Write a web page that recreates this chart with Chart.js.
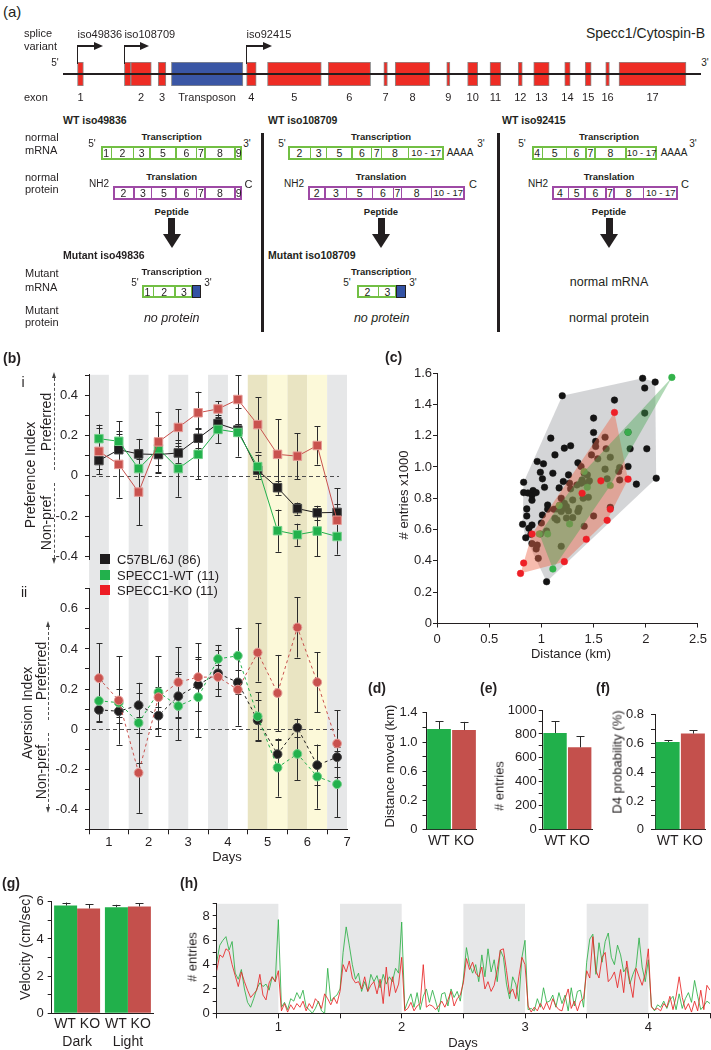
<!DOCTYPE html>
<html>
<head>
<meta charset="utf-8">
<title>Specc1 / Cytospin-B figure</title>
<script src="https://cdn.jsdelivr.net/npm/chart.js@4.4.1/dist/chart.umd.min.js"></script>
<style>
html,body{margin:0;padding:0;background:#fff;}
#fig{position:relative;width:711px;height:1050px;overflow:hidden;background:#fff;font-family:"Liberation Sans",Arial,Helvetica,sans-serif;color:#231f20;}
#fig canvas{position:absolute;}
.t{position:absolute;white-space:nowrap;line-height:1;z-index:5;}
.s{position:absolute;box-sizing:border-box;z-index:4;}
</style>
</head>
<body>
<div id="fig"></div>
<script>
// ======================= DATA =======================
// (a) gene model (relative locus units)
const exonLabels = ['1','','2','3','Transposon','4','5','6','7','8','9','10','11','12','13','14','15','16','17'];
const exonStart  = [14.5,61.4,67.8,95.2,108.4,183.6,204.5,265.2,320.8,332.2,383.7,404.6,427.0,455.2,470.7,501.7,522.2,542.7,556.0];
const exonEnd    = [20.4,67.8,88.3,102.9,179.9,193.2,258.3,307.6,324.4,366.8,386.9,414.7,437.9,459.3,486.2,507.2,528.2,546.4,623.0];
const locusLength = 638;
const spliceVariants = ['iso49836','iso108709','iso92415'];
const spliceStartExon = [0,1,5];
// transcripts / proteins
const wt49836mRNA = ['1','2','3','5','6','7','8','9'];
const wt49836Prot = ['2','3','5','6','7','8','9'];
const wt108709mRNA = ['2','3','5','6','7','8','10 - 17'];
const wt108709Prot = ['2','3','5','6','7','8','10 - 17'];
const wt92415mRNA = ['4','5','6','7','8','10 - 17'];
const wt92415Prot = ['4','5','6','7','8','10 - 17'];
const mut49836mRNA = ['1','2','3'];
const mut108709mRNA = ['2','3'];

// (b) half-day bins, days
const binCenters = [0.5,1.5,2.5,3.5,4.5,5.5,6.5,7.5,8.5,9.5,10.5,11.5,12.5];
const dayLabels = ['1','2','3','4','5','6','7'];
const phaseBands = [[0,1,'dark'],[2,3,'dark'],[4,5,'dark'],[6,7,'dark'],[8,9,'shiftD'],[9,10,'shiftL'],[10,11,'shiftD'],[11,12,'shiftL'],[12,13,'dark']];
// (b-i) preference index
const prefC57    = [0.076,0.130,0.109,0.106,0.114,0.187,0.260,0.228,0.028,-0.059,-0.163,-0.184,-0.182];
const prefC57Err = [0.040,0.080,0.075,0.050,0.050,0.050,0.030,0.030,0.020,0.035,0.030,0.035,0.120];
const prefWT     = [0.185,0.172,0.036,0.135,0.036,0.107,0.231,0.216,0.046,-0.273,-0.293,-0.275,-0.302];
const prefWTErr  = [0.070,0.100,0.100,0.120,0.140,0.125,0.070,0.120,0.060,0.105,0.055,0.125,0.090];
const prefKO     = [0.122,0.057,-0.081,0.169,0.241,0.314,0.333,0.380,0.255,0.107,0.098,0.151,-0.221];
const prefKOErr  = [0.115,0.165,0.165,0.150,0.090,0.105,0.040,0.120,0.135,0.175,0.115,0.095,0.080];
// (b-ii) aversion index
const avC57    = [0.096,0.089,0.119,0.067,0.164,0.221,0.278,0.233,0.044,-0.125,0.007,-0.180,-0.140];
const avC57Err = [0.060,0.060,0.060,0.100,0.110,0.130,0.115,0.060,0.100,0.070,0.045,0.100,0.050];
const avWT     = [0.141,0.132,0.031,0.184,0.115,0.159,0.350,0.366,0.063,-0.192,-0.124,-0.237,-0.275];
const avWTErr  = [0.100,0.070,0.200,0.180,0.170,0.200,0.070,0.140,0.120,0.145,0.130,0.160,0.165];
const avKO     = [0.254,0.143,-0.218,0.159,0.234,0.259,0.260,0.197,0.382,0.180,0.507,0.234,-0.072];
const avKOErr  = [0.175,0.220,0.200,0.050,0.175,0.170,0.060,0.180,0.145,0.190,0.150,0.150,0.165];
const legendNames = ['C57BL/6J (86)','SPECC1-WT (11)','SPECC1-KO (11)'];

// (c) distance (km) vs entries (x1000)
const c57Points = [[1.20,1.455],[1.70,1.427],[1.97,1.566],[1.99,1.504],[2.09,1.542],[1.99,1.344],[2.01,1.116],[2.10,0.928],[1.91,0.890],[1.83,1.222],[1.85,1.116],[1.83,1.003],[1.75,0.996],[1.74,0.971],[1.75,0.917],[1.50,1.312],[1.50,1.220],[1.52,1.163],[1.52,1.131],[1.61,1.190],[1.62,1.116],[1.54,1.052],[1.48,1.077],[1.61,0.986],[1.66,1.062],[1.63,0.924],[1.35,1.026],[1.38,1.003],[1.41,0.960],[1.46,0.911],[1.44,0.949],[1.39,0.917],[1.28,1.135],[1.22,1.120],[1.09,1.184],[1.13,1.077],[0.96,1.035],[1.02,1.020],[0.99,0.966],[1.03,0.870],[1.11,0.960],[1.17,0.866],[1.21,0.907],[1.26,0.949],[1.27,0.896],[1.19,0.800],[1.18,0.757],[1.15,0.732],[1.22,0.768],[1.24,0.747],[1.22,0.736],[1.19,0.715],[1.26,0.719],[1.30,0.789],[1.28,0.860],[1.34,0.885],[1.38,0.896],[1.44,0.896],[1.40,0.800],[1.45,0.806],[1.36,0.736],[1.35,0.715],[1.30,0.676],[1.24,0.674],[1.15,0.661],[1.13,0.672],[1.12,0.730],[1.06,0.757],[1.06,0.730],[1.01,0.693],[1.00,0.642],[1.05,0.591],[0.99,0.572],[0.96,0.501],[0.95,0.476],[0.97,0.416],[0.91,0.510],[0.90,0.570],[0.91,0.629],[0.85,0.548],[0.88,0.608],[0.86,0.687],[0.83,0.902],[0.83,0.836],[0.87,0.834],[0.92,0.849],[0.91,0.819],[0.91,0.787],[0.95,0.836],[0.82,0.634],[0.86,0.732],[1.01,0.924],[1.19,0.493],[1.41,0.621],[1.50,0.687],[1.66,0.742],[1.05,0.267]];
const koPoints = [[0.80,0.320],[0.83,0.386],[0.91,0.572],[1.22,0.395],[1.43,0.538],[1.63,0.659],[1.66,0.730],[1.70,1.348],[1.83,0.922],[1.57,0.911],[1.39,0.832]];
const wtPoints = [[2.25,1.572],[1.11,0.348],[0.98,0.572],[1.06,0.572],[1.17,0.753],[1.27,0.636],[1.41,0.971],[1.44,0.870],[1.66,0.881],[1.83,1.222]];

// (d)(e)(f) WT vs KO
const groups = ['WT','KO'];
const distanceMoved = [1.205,1.193];
const distanceErr   = [0.095,0.098];
const distTickLabels = ['0','0.2','0.6','1.0','1.4'];
const entriesTotal = [808,688];
const entriesErr   = [97,92];
const d4Prob = [0.611,0.669];
const d4Err  = [0.013,0.024];

// (g) velocity
const phases = ['Dark','Light'];
const velocityWT = [5.80,5.71];
const velocityWTErr = [0.16,0.13];
const velocityKO = [5.64,5.75];
const velocityKOErr = [0.22,0.16];

// (h) entries over days (sampled every 0.025 day from day 0.5)
const entryStart = 0.5, entryStep = 0.025;
const entriesWT = [4.2,5.6,6.0,6.3,5.2,5.9,3.3,2.8,3.6,2.0,0.9,0.5,1.2,2.0,2.5,2.2,2.4,1.9,3.0,2.6,7.7,
0.5,0.9,0.3,1.2,1.0,1.7,1.2,1.9,0.5,0.3,0.0,0.4,1.0,0.2,0.0,3.7,1.0,1.3,1.5,2.0,
5.0,7.1,5.6,4.0,2.8,3.3,1.8,2.6,1.8,3.2,2.6,3.1,2.1,3.2,2.4,3.0,2.6,3.7,3.3,7.5,
0.3,1.0,1.6,0.5,1.7,0.3,1.4,2.0,0.9,1.9,1.0,0.1,1.6,1.7,0.6,2.0,1.3,1.8,1.0,2.8,
5.4,4.0,3.3,4.0,2.6,4.8,3.0,5.3,3.4,4.4,2.6,5.2,4.6,2.4,1.2,3.0,2.4,1.0,4.6,6.0,
0.3,0.4,0.2,1.2,0.5,2.1,0.9,1.0,1.5,0.5,1.7,0.8,1.5,0.2,2.1,0.6,1.8,1.9,0.5,4.2,
6.1,6.5,3.2,5.8,4.2,5.9,6.6,4.6,4.0,5.6,4.8,3.4,3.8,2.4,3.2,3.8,6.2,3.8,2.6,4.4,
0.6,0.2,0.7,0.5,1.0,0.4,1.1,1.4,0.3,1.6,0.4,1.2,1.7,0.9,2.7,1.4,0.3,0.6,1.0,0.8];
const entriesKO = [3.5,4.8,4.6,5.3,5.1,4.0,3.1,2.2,3.4,2.6,1.9,1.3,1.6,1.9,3.2,1.5,1.1,2.5,3.0,2.6,3.5,
0.2,0.8,0.1,0.7,0.3,0.8,0.5,1.0,0.2,0.8,0.4,1.2,0.9,0.4,1.6,1.2,0.7,1.3,0.8,1.8,
4.0,3.4,4.3,2.9,2.5,2.6,2.0,3.0,1.8,2.3,2.6,1.6,2.8,0.8,3.8,1.4,3.0,1.7,2.4,4.6,
0.2,0.4,0.9,0.2,0.6,0.8,4.0,0.5,0.7,0.6,0.3,0.6,1.0,0.5,1.1,1.8,0.6,1.2,1.5,2.5,
4.5,3.6,4.2,3.3,3.0,3.8,2.0,2.6,1.8,2.3,3.6,5.2,5.3,3.5,1.6,2.0,1.2,3.0,4.6,4.0,
0.6,0.1,0.5,0.2,0.8,0.3,0.9,0.3,1.2,0.6,0.3,0.2,1.2,2.0,0.4,1.0,0.2,1.0,1.2,3.5,
2.9,6.3,3.5,2.9,4.6,5.0,2.6,2.9,3.4,2.1,3.6,1.7,4.3,2.6,1.3,3.7,3.0,2.3,3.3,5.3,
0.5,0.3,0.4,0.2,0.8,0.5,1.4,0.3,1.4,3.0,1.3,0.3,0.8,0.1,1.0,0.2,1.9,0.3,2.3,1.9];
const darkPeriods = [[0.5,1],[1.5,2],[2.5,3],[3.5,4]];

// ======================= STYLE / HELPERS =======================
const INK = '#231f20';
const COL = {
  b6:'#1e1c1d', b6Edge:'#4a4a4a',
  wt:'#22b14c', wtEdge:'#74cf8a',
  ko:'#c9524e', koEdge:'#e59c97',
  koLegend:'#ed1c24',
  barWT:'#21b04b', barKO:'#c4504c',
  band:{dark:'#e6e7e8', shiftD:'#e9e4c2', shiftL:'#fcf9d9'}
};
Chart.defaults.font.family = '"Liberation Sans", Arial, Helvetica, sans-serif';
Chart.defaults.color = INK;
Chart.defaults.animation = false;
Chart.defaults.responsive = false;
Chart.defaults.plugins.legend.display = false;
Chart.defaults.plugins.tooltip.enabled = false;

const fig = document.getElementById('fig');
function cv(left, top, w, h){
  const c = document.createElement('canvas');
  c.width = w; c.height = h;
  c.style.left = left+'px'; c.style.top = top+'px';
  c.style.width = w+'px'; c.style.height = h+'px';
  fig.appendChild(c); return c;
}
function T(str, x, y, o){
  o = o || {};
  const d = document.createElement('div'); d.className = 't'; d.textContent = str;
  const s = d.style; s.left = x+'px'; s.top = y+'px'; s.fontSize = (o.fs||11)+'px';
  if (o.b) s.fontWeight = 'bold';
  if (o.i) s.fontStyle = 'italic';
  const a = o.a || 'c';
  let tf = a==='c' ? 'translate(-50%,-50%)' : (a==='l' ? 'translate(0,-50%)' : 'translate(-100%,-50%)');
  if (o.r) tf = 'translate(-50%,-50%) rotate(-90deg)';
  s.transform = tf;
  fig.appendChild(d); return d;
}
function R(x, y, w, h, css){
  const d = document.createElement('div'); d.className = 's';
  d.style.cssText += `left:${x}px;top:${y}px;width:${w}px;height:${h}px;` + (css||'');
  fig.appendChild(d); return d;
}
function tri(x, y, dir, w, h, col){
  let css;
  if (dir==='up') css = `left:${x-w/2}px;top:${y}px;border-left:${w/2}px solid transparent;border-right:${w/2}px solid transparent;border-bottom:${h}px solid ${col};`;
  else if (dir==='down') css = `left:${x-w/2}px;top:${y-h}px;border-left:${w/2}px solid transparent;border-right:${w/2}px solid transparent;border-top:${h}px solid ${col};`;
  else css = `left:${x-h}px;top:${y-w/2}px;border-top:${w/2}px solid transparent;border-bottom:${w/2}px solid transparent;border-left:${h}px solid ${col};`;
  const d = document.createElement('div'); d.className = 's';
  d.style.cssText += 'width:0;height:0;' + css; fig.appendChild(d);
}

// ---- plugins ----
const bandPlugin = {
  id:'bands',
  beforeDraw(chart, args, o){
    if (!o || !o.bands) return;
    const {ctx, chartArea:a, scales} = chart;
    const x = scales.x;
    const y0 = o.fromTop ? 0 : a.top;
    const y1 = o.toBottom ? chart.height : a.bottom;
    ctx.save();
    o.bands.forEach(b => {
      const xa = x.getPixelForValue(b[0]), xb = x.getPixelForValue(b[1]);
      ctx.fillStyle = o.colors ? o.colors[b[2]] : o.color;
      ctx.fillRect(xa, y0, xb-xa, y1-y0);
    });
    ctx.restore();
  }
};
const zeroPlugin = {
  id:'zeroLine',
  beforeDatasetsDraw(chart){
    const {ctx, chartArea:a, scales} = chart;
    const py = Math.round(scales.y.getPixelForValue(0)) + 0.5;
    ctx.save(); ctx.strokeStyle = '#4d4d4d'; ctx.lineWidth = 1; ctx.setLineDash([4,3]);
    ctx.beginPath(); ctx.moveTo(a.left+3, py); ctx.lineTo(a.right-8, py); ctx.stroke(); ctx.restore();
  }
};
function drawErr(chart, o){
  const ctx = chart.ctx;
  ctx.save(); ctx.strokeStyle = o.color || '#2b2b2b'; ctx.lineWidth = 1;
  chart.data.datasets.forEach((ds, di) => {
    if (!ds.errs) return;
    const meta = chart.getDatasetMeta(di);
    const ys = chart.scales[meta.yAxisID];
    meta.data.forEach((el, j) => {
      const e = ds.errs[j]; if (e == null) return;
      const raw = ds.data[j];
      const v = (raw !== null && typeof raw === 'object') ? raw.y : raw;
      const x = Math.round(el.x) + 0.5;
      const yT = ys.getPixelForValue(v + e);
      const yB = o.upOnly ? ys.getPixelForValue(v) : ys.getPixelForValue(v - e);
      const cw = o.cap || 3;
      ctx.beginPath();
      ctx.moveTo(x, yT); ctx.lineTo(x, yB);
      ctx.moveTo(x-cw, Math.round(yT)+0.5); ctx.lineTo(x+cw, Math.round(yT)+0.5);
      if (!o.upOnly) { ctx.moveTo(x-cw, Math.round(yB)+0.5); ctx.lineTo(x+cw, Math.round(yB)+0.5); }
      ctx.stroke();
    });
  });
  ctx.restore();
}
const errPlugin = {
  id:'errBars',
  beforeDatasetsDraw(chart, args, o){ if (!o.after) drawErr(chart, o); },
  afterDatasetsDraw(chart, args, o){ if (o.after) drawErr(chart, o); }
};
const baselinePlugin = {
  id:'baseline',
  afterDatasetsDraw(chart){
    const ctx = chart.ctx, a = chart.chartArea;
    const y = (a.top + a.bottom)/2;
    ctx.save(); ctx.strokeStyle = INK; ctx.lineWidth = 2;
    ctx.beginPath(); ctx.moveTo(0, y); ctx.lineTo(chart.width, y); ctx.stroke(); ctx.restore();
  }
};

function yAx(o){
  return {
    type:'linear', position:'left', min:o.min, max:o.max,
    afterFit(s){ s.width = o.width; },
    border:{display:true, color:INK, width:1},
    grid:{display:true, drawOnChartArea:false, drawTicks:true, tickLength:o.tl||4, color:INK, lineWidth:1},
    ticks:{stepSize:o.step, autoSkip:false, includeBounds:false, padding:o.pad, color:INK, font:{size:o.fs||13}, callback:o.label}
  };
}
function xCat(h, pad, fs, lh){
  return {
    type:'category', afterFit(s){ s.height = h; },
    grid:{display:false, drawTicks:false, tickLength:0}, border:{display:true, color:INK, width:1},
    ticks:{padding:pad, color:INK, font:{size:fs||14, lineHeight:lh||1.2}, maxRotation:0, autoSkip:false}
  };
}
function evenTenths(v){
  const k = Math.round(v*10);
  if (k % 2 !== 0) return '';
  return k === 0 ? '0' : (k/10).toFixed(1);
}
function series(label, vals, errs, fill, edge, style, dashed, order){
  return {
    label, order, errs,
    data: binCenters.map((x,i) => ({x, y: vals[i]})),
    showLine:true, tension:0, borderColor:fill, borderWidth:1, borderDash: dashed ? [3,3] : [],
    pointStyle:style, pointRadius: style==='rect' ? 6 : 4.4,
    pointBackgroundColor:fill, pointBorderColor:edge, pointBorderWidth:1
  };
}
function convexHull(points){
  const p = points.map(q => [q[0], q[1]]).sort((a,b) => a[0]-b[0] || a[1]-b[1]);
  const cross = (o,a,b) => (a[0]-o[0])*(b[1]-o[1]) - (a[1]-o[1])*(b[0]-o[0]);
  const lower = [];
  for (const q of p){ while (lower.length >= 2 && cross(lower[lower.length-2], lower[lower.length-1], q) <= 0) lower.pop(); lower.push(q); }
  const upper = [];
  for (let i = p.length-1; i >= 0; i--){ const q = p[i]; while (upper.length >= 2 && cross(upper[upper.length-2], upper[upper.length-1], q) <= 0) upper.pop(); upper.push(q); }
  upper.pop(); lower.pop();
  const h = lower.concat(upper); h.push(h[0]);
  return h.map(q => ({x:q[0], y:q[1]}));
}
const toXY = pts => pts.map(q => ({x:q[0], y:q[1]}));

// ======================= PANEL (a) =======================
T('(a)', 3, 11, {fs:15, a:'l'});
T('splice', 24, 33, {a:'l'});
T('variant', 24, 46, {a:'l'});
T('exon', 24, 97, {a:'l'});
T('Specc1/Cytospin-B', 705, 33, {fs:14, a:'r'});
T("5'", 55, 63, {fs:10});
T("3'", 705, 63, {fs:10});

const exonCanvasLeft = 63;
const exonChart = new Chart(cv(exonCanvasLeft, 62, locusLength, 24), {
  type:'bar',
  data:{
    labels:['Specc1'],
    datasets: exonLabels.map((lab, i) => ({
      label: lab || '2',
      data: [[exonStart[i], exonEnd[i]]],
      backgroundColor: lab === 'Transposon' ? '#3a56a5' : '#ee2c24',
      borderColor:'#8c8c8c', borderWidth:1, borderSkipped:false,
      grouped:false, barPercentage:1, categoryPercentage:1
    }))
  },
  options:{
    indexAxis:'y', layout:{padding:0},
    scales:{ x:{type:'linear', min:0, max:locusLength, display:false}, y:{display:false} }
  },
  plugins:[baselinePlugin]
});
const exX = v => exonCanvasLeft + exonChart.scales.x.getPixelForValue(v);
exonLabels.forEach((lab, i) => { if (lab) T(lab, exX((exonStart[i]+exonEnd[i])/2), 97, {fs:11}); });
spliceVariants.forEach((name, k) => {
  const x = exX(exonStart[spliceStartExon[k]]);
  R(x-0.75, 46, 1.5, 18, `background:${INK};`);
  R(x-0.75, 45.25, 18, 1.5, `background:${INK};`);
  tri(x+25, 46, 'right', 8, 9, INK);
  T(name, x, 34, {fs:11, a:'l'});
});

// transcript boxes
function geneBox(bounds, labels, y0, y1, color){
  const x0 = bounds[0], x1 = bounds[bounds.length-1];
  R(x0, y0, x1-x0, y1-y0, `border:2px solid ${color};`);
  for (let i = 1; i < bounds.length-1; i++) R(bounds[i]-0.75, y0, 1.5, y1-y0, `background:${color};`);
  labels.forEach((lab, i) => T(lab, (bounds[i]+bounds[i+1])/2, (y0+y1)/2+0.5, {fs: lab.length > 3 ? 9.5 : 10.5}));
}
const GREEN = '#72bf44', PURPLE = '#9e4aa5';
function downArrow(cx, y){ R(cx-3.5, y, 7, 16, `background:${INK};`); tri(cx, y+30, 'down', 18, 14, INK); }

T('WT iso49836', 63, 120, {fs:10.5, b:true, a:'l'});
T('WT iso108709', 268, 120, {fs:10.5, b:true, a:'l'});
T('WT iso92415', 502, 120, {fs:10.5, b:true, a:'l'});
[['normal',136.7],['mRNA',150],['normal',176.7],['protein',189.3],['Mutant',273.3],['mRNA',286.7],['Mutant',310],['protein',322.3]]
  .forEach(p => T(p[0], 25, p[1], {fs:11, a:'l'}));
[171.7, 381, 609].forEach(cx => {
  T('Transcription', cx, 137.3, {fs:9.5, b:true});
  T('Translation', cx, 176.7, {fs:9.5, b:true});
  T('Peptide', cx, 212.3, {fs:9.5, b:true});
  downArrow(cx, 218);
});
T("5'", 92, 144, {fs:10}); T("3'", 247, 144, {fs:10});
T("5'", 282, 144, {fs:10}); T("3'", 481, 144, {fs:10});
T("5'", 522, 144, {fs:10}); T("3'", 693, 144, {fs:10});
T('AAAA', 460, 153.3, {fs:10}); T('AAAA', 674, 153.3, {fs:10});
geneBox([100.7,111.7,133.3,150,176,196.7,205,235,242.3], wt49836mRNA, 146, 159.5, GREEN);
geneBox([288.3,310.7,326.7,352,371.7,381.7,408.3,444], wt108709mRNA, 146, 159.5, GREEN);
geneBox([531.7,542.7,566.7,586,595,626,657.3], wt92415mRNA, 146, 159.5, GREEN);
T('NH2', 99, 184, {fs:10}); T('C', 248.5, 184, {fs:11});
T('NH2', 294, 184, {fs:10}); T('C', 473, 184, {fs:11});
T('NH2', 538, 184, {fs:10}); T('C', 685, 184, {fs:11});
geneBox([112.7,134,151.7,176,196.7,205,235,242.3], wt49836Prot, 186, 199.5, PURPLE);
geneBox([308.3,325,346.7,372.7,393.3,401.7,431.7,465], wt108709Prot, 186, 199.5, PURPLE);
geneBox([551.7,568.3,585,606,614,643.3,678.3], wt92415Prot, 186, 199.5, PURPLE);
T('Mutant iso49836', 63, 255, {fs:10.5, b:true, a:'l'});
T('Mutant iso108709', 268, 255, {fs:10.5, b:true, a:'l'});
T('Transcription', 171.7, 272.3, {fs:9.5, b:true});
T('Transcription', 381, 272.3, {fs:9.5, b:true});
T("5'", 135, 283, {fs:10}); T("3'", 208, 283, {fs:10});
T("5'", 347, 283, {fs:10}); T("3'", 413, 283, {fs:10});
geneBox([141.7,153.3,175,192.7], mut49836mRNA, 285, 298, GREEN);
R(192.2, 285, 8.5, 13, `background:#3352a4;border:1.5px solid ${INK};`);
geneBox([356.7,378.3,396.7], mut108709mRNA, 285, 298, GREEN);
R(396.2, 285, 9.5, 13, `background:#3352a4;border:1.5px solid ${INK};`);
T('no protein', 171.7, 317.7, {fs:12.5, i:true});
T('no protein', 381.7, 317.7, {fs:12.5, i:true});
T('normal mRNA', 609, 282.3, {fs:12.5});
T('normal protein', 609, 318.3, {fs:12.5});
R(261, 133, 3, 199, `background:${INK};`);
R(497, 133, 3, 199, `background:${INK};`);

// ======================= PANEL (b) =======================
const xHalfDays = {type:'linear', min:0, max:13, display:false};
new Chart(cv(0, 360, 360, 214), {
  type:'scatter',
  data:{datasets:[
    series('SPECC1-KO (11)', prefKO, prefKOErr, COL.ko, COL.koEdge, 'rect', false, 0),
    series('SPECC1-WT (11)', prefWT, prefWTErr, COL.wt, COL.wtEdge, 'rect', false, 1),
    series('C57BL/6J (86)', prefC57, prefC57Err, COL.b6, COL.b6Edge, 'rect', false, 2)
  ]},
  options:{
    layout:{padding:{top:13, right:13, bottom:12, left:0}},
    scales:{
      x: xHalfDays,
      y: yAx({min:-0.415, max:0.503, step:0.1, width:89, pad:7, fs:13, label:evenTenths})
    },
    plugins:{ bands:{bands:phaseBands, colors:COL.band, toBottom:true}, errBars:{cap:3} }
  },
  plugins:[bandPlugin, zeroPlugin, errPlugin]
});
new Chart(cv(0, 574, 360, 296), {
  type:'scatter',
  data:{datasets:[
    series('SPECC1-KO (11)', avKO, avKOErr, COL.ko, COL.koEdge, 'circle', true, 0),
    series('SPECC1-WT (11)', avWT, avWTErr, COL.wt, COL.wtEdge, 'circle', true, 1),
    series('C57BL/6J (86)', avC57, avC57Err, COL.b6, COL.b6Edge, 'circle', true, 2)
  ]},
  options:{
    layout:{padding:{top:8, right:13, bottom:0, left:0}},
    scales:{
      x:{
        type:'linear', min:0, max:13, afterFit(s){ s.height = 40.7; },
        border:{display:true, color:INK, width:1},
        grid:{drawOnChartArea:false, tickLength:5, color: c => (c.tick && Math.round(c.tick.value) % 2 === 0) ? INK : 'rgba(0,0,0,0)'},
        ticks:{stepSize:1, autoSkip:false, maxRotation:0, padding:0, color:INK, font:{size:13},
          callback: v => (Math.round(v) % 2 === 1) ? dayLabels[(Math.round(v)-1)/2] : ''}
      },
      y: yAx({min:-0.5, max:0.7, step:0.1, width:89, pad:7, fs:13, label:evenTenths})
    },
    plugins:{ bands:{bands:phaseBands, colors:COL.band, fromTop:true}, errBars:{cap:3} }
  },
  plugins:[bandPlugin, zeroPlugin, errPlugin]
});
T('(b)', 3, 358, {fs:14, b:true, a:'l'});
T('i', 23, 382, {fs:14});
T('ii', 24, 592, {fs:14});
T('Preference Index', 30, 474.5, {fs:14, r:true});
T('Preferred', 46, 422, {fs:14, r:true});
T('Non-pref', 46, 522.5, {fs:14, r:true});
T('Aversion Index', 27, 712.5, {fs:14, r:true});
T('Preferred', 41, 671, {fs:14, r:true});
T('Non-pref', 41, 771.5, {fs:14, r:true});
T('Days', 227, 856, {fs:13});
function dashV(x, y0, y1){ R(x-0.5, y0, 1, y1-y0, 'border-left:1px dashed #555;'); }
dashV(54.5, 378, 470); tri(54.5, 372, 'up', 5, 6, '#444');
dashV(54.5, 483, 558); tri(54.5, 564, 'down', 5, 6, '#444');
dashV(48, 627, 720); tri(48, 621, 'up', 5, 6, '#444');
dashV(48, 733, 807); tri(48, 813, 'down', 5, 6, '#444');
[COL.b6, COL.wt, COL.koLegend].forEach((c, i) => {
  const y = [559, 574.5, 590][i];
  R(100, y-5, 10, 10, `background:${c};`);
  T(legendNames[i], 117, y, {fs:13, a:'l'});
});

// ======================= PANEL (c) =======================
new Chart(cv(385, 362, 326, 300), {
  type:'scatter',
  data:{datasets:[
    {label:'C57BL/6J hull', data:convexHull(c57Points), showLine:true, fill:'shape', backgroundColor:'rgba(120,125,130,0.32)', borderColor:'rgba(0,0,0,0)', borderWidth:0, pointRadius:0, order:6},
    {label:'C57BL/6J', data:toXY(c57Points), pointRadius:3.3, pointBackgroundColor:'#141414', pointBorderColor:'#141414', pointBorderWidth:0.5, order:5},
    {label:'SPECC1-WT', data:toXY(wtPoints), pointRadius:3.3, pointBackgroundColor:'#33b24a', pointBorderColor:'#33b24a', pointBorderWidth:0.5, order:4},
    {label:'SPECC1-KO hull', data:convexHull(koPoints), showLine:true, fill:'shape', backgroundColor:'rgba(238,105,75,0.45)', borderColor:'rgba(0,0,0,0)', borderWidth:0, pointRadius:0, order:3},
    {label:'SPECC1-WT hull', data:convexHull(wtPoints), showLine:true, fill:'shape', backgroundColor:'rgba(70,165,80,0.42)', borderColor:'rgba(0,0,0,0)', borderWidth:0, pointRadius:0, order:2},
    {label:'SPECC1-KO', data:toXY(koPoints), pointRadius:3.3, pointBackgroundColor:'#ee1f26', pointBorderColor:'#ee1f26', pointBorderWidth:0.5, order:1}
  ]},
  options:{
    layout:{padding:{top:11, right:13, bottom:0, left:0}},
    scales:{
      x:{type:'linear', min:0, max:2.5, afterFit(s){ s.height = 38.5; },
         border:{display:true, color:INK, width:1},
         grid:{drawOnChartArea:false, tickLength:4, color:INK},
         ticks:{stepSize:0.5, autoSkip:false, maxRotation:0, padding:4, color:INK, font:{size:13}, callback: v => String(+v.toFixed(1))}},
      y: yAx({min:0, max:1.6, step:0.2, width:52, pad:1, fs:13, label: v => { const k = Math.round(v*10); return k === 0 ? '0' : (k/10).toFixed(1); }})
    }
  }
});
T('(c)', 385, 357, {fs:14, b:true, a:'l'});
T('# entries x1000', 403, 495, {fs:13, r:true});
T('Distance (km)', 571, 652.7, {fs:13});

// ======================= PANELS (d)(e)(f) =======================
function wtKoBar(canvas, vals, errs, padTop, padRight, axisW, tickPad, yMin, yMax, step, label){
  return new Chart(canvas, {
    type:'bar',
    data:{labels:groups, datasets:[{label:'mean', data:vals, errs, backgroundColor:[COL.barWT, COL.barKO], barPercentage:0.95, categoryPercentage:1}]},
    options:{
      layout:{padding:{top:padTop, right:padRight, bottom:0, left:0}},
      scales:{ x:xCat(30.3, 3, 14), y:yAx({min:yMin, max:yMax, step, width:axisW, pad:tickPad, fs:13, label}) },
      plugins:{ errBars:{after:true, upOnly:true, cap:4} }
    },
    plugins:[errPlugin]
  });
}
wtKoBar(cv(360, 700, 125, 160), distanceMoved, distanceErr, 10.7, 8.5, 66.5, 5, 0, 1.4, 0.175,
  (v, i) => (i % 2 === 0) ? distTickLabels[i/2] : '');
wtKoBar(cv(480, 700, 120, 160), entriesTotal, entriesErr, 10, 8, 62.7, 2, 0, 1000, 100,
  v => (Math.round(v) % 200 === 0) ? String(Math.round(v)) : '');
wtKoBar(cv(600, 700, 111, 160), d4Prob, d4Err, 10, 5.5, 55, 7, 0, 0.8, 0.1, evenTenths);
T('(d)', 368, 688, {fs:14, b:true, a:'l'});
T('(e)', 480, 688, {fs:14, b:true, a:'l'});
T('(f)', 596, 688, {fs:14, b:true, a:'l'});
T('Distance moved (km)', 389, 766, {fs:13, r:true});
T('# entries', 499, 786, {fs:13, r:true});
T('D4 probability (%)', 617, 761.5, {fs:13, r:true});

// ======================= PANEL (g) =======================
new Chart(cv(0, 890, 165, 160), {
  type:'bar',
  data:{
    labels: phases.map(p => ['WT KO', p]),
    datasets:[
      {label:'WT', data:velocityWT, errs:velocityWTErr, backgroundColor:COL.barWT, barPercentage:1, categoryPercentage:0.905},
      {label:'KO', data:velocityKO, errs:velocityKOErr, backgroundColor:COL.barKO, barPercentage:1, categoryPercentage:0.905}
    ]
  },
  options:{
    layout:{padding:{top:11.7, right:11.7, bottom:0, left:0}},
    scales:{
      x: xCat(36.7, 2, 14, 1.27),
      y: yAx({min:0, max:6, step:1, width:51.7, pad:4, fs:13, label: v => (Math.round(v) % 2 === 0) ? String(Math.round(v)) : ''})
    },
    plugins:{ errBars:{after:true, upOnly:true, cap:4} }
  },
  plugins:[errPlugin]
});
T('(g)', 2, 883, {fs:14, b:true, a:'l'});
T('Velocity (cm/sec)', 25, 947, {fs:14, r:true});

// ======================= PANEL (h) =======================
const entryTimes = entriesWT.map((_, i) => entryStart + i*entryStep);
new Chart(cv(180, 893, 531, 157), {
  type:'line',
  data:{datasets:[
    {label:'SPECC1-KO', data: entriesKO.map((v,i) => ({x:entryTimes[i], y:v})), borderColor:'rgba(232,38,38,0.85)', borderWidth:1, pointRadius:0, tension:0, order:0},
    {label:'SPECC1-WT', data: entriesWT.map((v,i) => ({x:entryTimes[i], y:v})), borderColor:'rgba(46,176,72,0.85)', borderWidth:1, pointRadius:0, tension:0, order:1}
  ]},
  options:{
    layout:{padding:{top:8.5, right:0, bottom:0, left:0}},
    scales:{
      x:{type:'linear', min:0.5, max:4.5, afterFit(s){ s.height = 36.7; },
         border:{display:true, color:INK, width:1},
         grid:{drawOnChartArea:false, tickLength:5, color:INK},
         ticks:{stepSize:0.5, autoSkip:false, maxRotation:0, padding:1, color:INK, font:{size:13},
           callback: v => (Math.abs(v - Math.round(v)) < 1e-6) ? String(Math.round(v)) : ''}},
      y: yAx({min:0, max:9, step:1, width:36.7, pad:3, fs:13, label: v => (Math.round(v) % 2 === 0) ? String(Math.round(v)) : ''})
    },
    plugins:{ bands:{bands: darkPeriods.map(p => [p[0], p[1], 'dark']), colors:COL.band} }
  },
  plugins:[bandPlugin]
});
T('(h)', 180, 883, {fs:14, b:true, a:'l'});
T('# entries', 192, 957, {fs:13, r:true});
T('Days', 463, 1041.7, {fs:13});
</script>
</body>
</html>
